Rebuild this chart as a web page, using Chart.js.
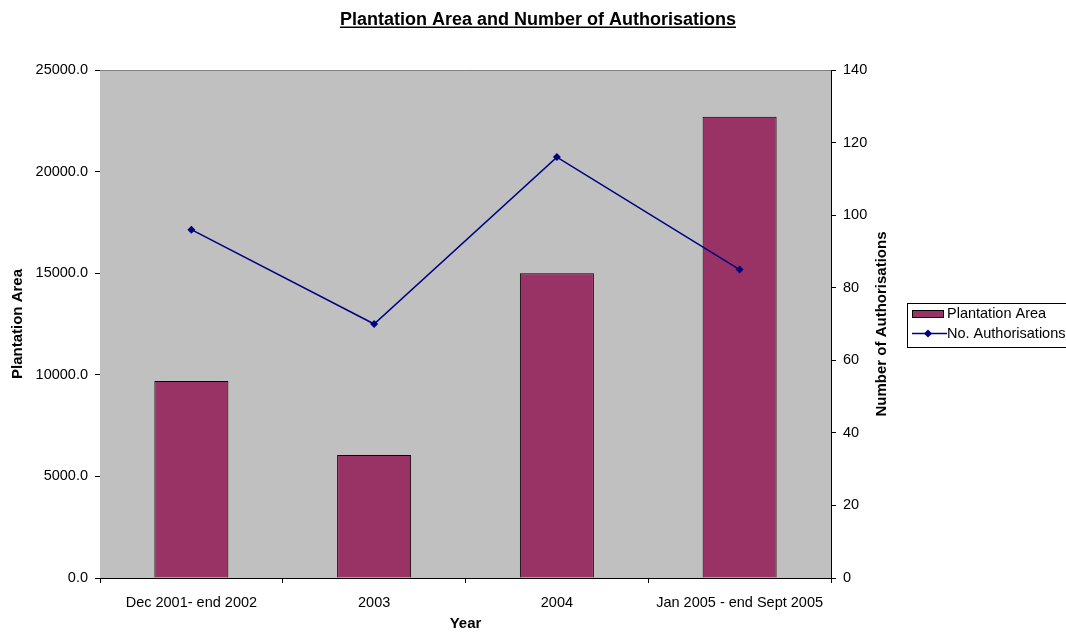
<!DOCTYPE html>
<html lang="en">
<head>
    <meta charset="UTF-8">
    <title>Plantation Area and Number of Authorisations</title>
    <style>
        body { margin: 0; padding: 0; background: #fff; }
        canvas { display: block; }
    </style>
    <script src="https://cdn.jsdelivr.net/npm/chart.js"></script>
</head>
<body>
    <canvas id="chart" width="1066" height="632"></canvas>
    <script>
        // data
        const categories = ['Dec 2001- end 2002', '2003', '2004', 'Jan 2005 - end Sept 2005'];
        const plantationArea = [9700, 6050, 15000, 22700];
        const authorisations = [96, 70, 116, 85];

        const FONT = 'Arial, "Liberation Sans", sans-serif';

        // grey plot background + top border
        const plotBackground = {
            id: 'plotBackground',
            beforeDatasetsDraw(chart) {
                const { ctx, chartArea: a } = chart;
                ctx.save();
                ctx.fillStyle = '#c0c0c0';
                ctx.fillRect(a.left, a.top, a.right - a.left, a.bottom - a.top);
                ctx.strokeStyle = '#808080';
                ctx.lineWidth = 1;
                ctx.beginPath();
                ctx.moveTo(a.left, a.top + 0.5);
                ctx.lineTo(a.right, a.top + 0.5);
                ctx.stroke();
                ctx.restore();
            }
        };

        // underlined title, right axis title (reads bottom-up) and boxed legend
        const decorations = {
            id: 'decorations',
            afterDraw(chart) {
                const { ctx, chartArea: a } = chart;
                ctx.save();
                ctx.fillStyle = '#000';
                ctx.font = 'bold 18px ' + FONT;
                ctx.textAlign = 'center';
                ctx.textBaseline = 'alphabetic';
                const title = 'Plantation Area and Number of Authorisations';
                const tw = ctx.measureText(title).width;
                ctx.fillText(title, 538, 25);
                ctx.fillRect(538 - tw / 2, 26.5, tw, 1.5);

                ctx.font = 'bold 15px ' + FONT;
                ctx.textBaseline = 'middle';
                ctx.translate(882, (a.top + a.bottom) / 2);
                ctx.rotate(-Math.PI / 2);
                ctx.fillText('Number of Authorisations', 0, 0);
                ctx.restore();

                // legend
                ctx.save();
                const lx = 907, ly = 303;
                ctx.fillStyle = '#fff';
                ctx.fillRect(lx, ly, 170, 44);
                ctx.strokeStyle = '#000';
                ctx.lineWidth = 1;
                ctx.strokeRect(lx + 0.5, ly + 0.5, 170, 44);
                ctx.font = '14.5px ' + FONT;
                ctx.textAlign = 'left';
                ctx.textBaseline = 'middle';
                const bar = chart.data.datasets[0];
                const line = chart.data.datasets[1];
                ctx.fillStyle = bar.backgroundColor;
                ctx.fillRect(lx + 5, ly + 7, 31, 7);
                ctx.strokeRect(lx + 5.5, ly + 7.5, 31, 7);
                ctx.fillStyle = '#000';
                ctx.fillText(bar.label, lx + 40, ly + 11);
                ctx.strokeStyle = line.borderColor;
                ctx.lineWidth = 1.5;
                ctx.beginPath();
                ctx.moveTo(lx + 5, ly + 30.5);
                ctx.lineTo(lx + 40, ly + 30.5);
                ctx.stroke();
                ctx.fillStyle = line.borderColor;
                ctx.beginPath();
                ctx.moveTo(lx + 21, ly + 26.5);
                ctx.lineTo(lx + 25, ly + 30.5);
                ctx.lineTo(lx + 21, ly + 34.5);
                ctx.lineTo(lx + 17, ly + 30.5);
                ctx.closePath();
                ctx.fill();
                ctx.fillStyle = '#000';
                ctx.fillText(line.label, lx + 40, ly + 30.5);
                ctx.restore();
            }
        };

        Chart.defaults.font.family = FONT;
        Chart.defaults.font.size = 14.5;
        Chart.defaults.color = '#000';

        const axisTitleFont = { size: 15, weight: 'bold', lineHeight: 1 };

        new Chart(document.getElementById('chart'), {
            data: {
                labels: categories,
                datasets: [
                    {
                        type: 'bar',
                        label: 'Plantation Area',
                        data: plantationArea,
                        backgroundColor: '#993366',
                        borderColor: '#000',
                        borderWidth: 1,
                        barPercentage: 0.405,
                        categoryPercentage: 1,
                        yAxisID: 'y',
                        order: 1
                    },
                    {
                        type: 'line',
                        label: 'No. Authorisations',
                        data: authorisations,
                        borderColor: '#000080',
                        backgroundColor: '#000080',
                        borderWidth: 1.5,
                        pointStyle: 'rectRot',
                        pointRadius: 4,
                        pointBorderWidth: 0,
                        tension: 0,
                        yAxisID: 'y1',
                        order: 0
                    }
                ]
            },
            options: {
                responsive: false,
                animation: false,
                layout: { padding: { top: 70, right: 173, bottom: 0, left: 0 } },
                plugins: {
                    legend: { display: false },
                    tooltip: { enabled: false },
                    title: { display: false }
                },
                scales: {
                    x: {
                        offset: true,
                        grid: { offset: true, drawOnChartArea: false, drawTicks: true, tickLength: 5, color: '#000' },
                        border: { color: '#000', width: 1 },
                        ticks: { padding: 11, maxRotation: 0 },
                        title: { display: true, text: 'Year', font: axisTitleFont, padding: { top: 0, bottom: 0.5 } },
                        afterFit(scale) { scale.height = 54; }
                    },
                    y: {
                        position: 'left',
                        min: 0,
                        max: 25000,
                        ticks: { stepSize: 5000, padding: 7, callback: v => v.toFixed(1) },
                        grid: { drawOnChartArea: false, drawTicks: true, tickLength: 5, color: '#000' },
                        border: { color: '#000', width: 1 },
                        title: { display: true, text: 'Plantation Area', font: axisTitleFont, padding: { top: 10.5, bottom: 0 } },
                        afterFit(scale) { scale.width = 100; }
                    },
                    y1: {
                        position: 'right',
                        min: 0,
                        max: 140,
                        ticks: { stepSize: 20, padding: 7 },
                        grid: { drawOnChartArea: false, drawTicks: true, tickLength: 5, color: '#000' },
                        border: { color: '#000', width: 1 },
                        afterFit(scale) { scale.width = 62; }
                    }
                }
            },
            plugins: [plotBackground, decorations]
        });
    </script>
</body>
</html>
